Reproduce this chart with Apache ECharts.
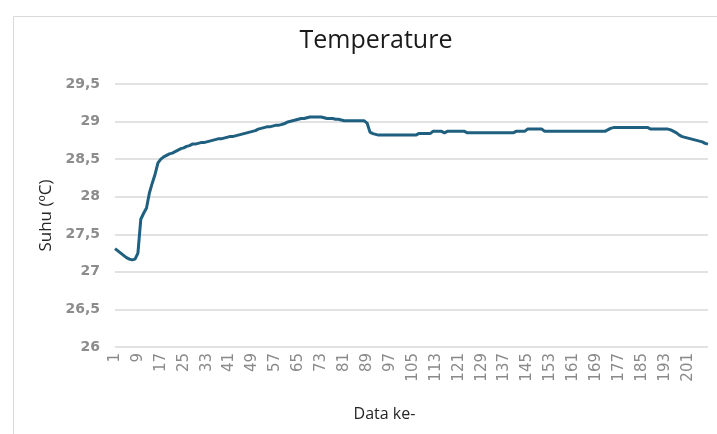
<!DOCTYPE html>
<html>
<head>
<meta charset="utf-8">
<script src="https://cdn.jsdelivr.net/npm/echarts@6/dist/echarts.min.js"></script>
<style>
html,body{margin:0;padding:0;background:#fff;}
#chart{width:717px;height:434px;}
</style>
</head>
<body>
<div id="chart"></div>
<script>
var chartTitle = "Temperature";
var yAxisName = "Suhu (ºC)";
var xAxisName = "Data ke-";
var yTicks = [26, 26.5, 27, 27.5, 28, 28.5, 29, 29.5];

var temperature = [
  27.31, 27.28, 27.25, 27.22, 27.19, 27.17, 27.16, 27.17, 27.25, 27.70,
  27.78, 27.85, 28.05, 28.18, 28.30, 28.45, 28.50, 28.53, 28.55, 28.57,
  28.58, 28.60, 28.62, 28.64, 28.65, 28.67, 28.68, 28.70, 28.70, 28.71,
  28.72, 28.72, 28.73, 28.74, 28.75, 28.76, 28.77, 28.77, 28.78, 28.79,
  28.80, 28.80, 28.81, 28.82, 28.83, 28.84, 28.85, 28.86, 28.87, 28.88,
  28.90, 28.91, 28.92, 28.93, 28.93, 28.94, 28.95, 28.95, 28.96, 28.97,
  28.99, 29.00, 29.01, 29.02, 29.03, 29.04, 29.04, 29.05, 29.06, 29.06,
  29.06, 29.06, 29.06, 29.05, 29.04, 29.04, 29.04, 29.03, 29.03, 29.02,
  29.01, 29.01, 29.01, 29.01, 29.01, 29.01, 29.01, 29.01, 28.98, 28.86,
  28.84, 28.83, 28.82, 28.82, 28.82, 28.82, 28.82, 28.82, 28.82, 28.82,
  28.82, 28.82, 28.82, 28.82, 28.82, 28.82, 28.84, 28.84, 28.84, 28.84,
  28.84, 28.87, 28.87, 28.87, 28.87, 28.85, 28.87, 28.87, 28.87, 28.87,
  28.87, 28.87, 28.87, 28.85, 28.85, 28.85, 28.85, 28.85, 28.85, 28.85,
  28.85, 28.85, 28.85, 28.85, 28.85, 28.85, 28.85, 28.85, 28.85, 28.85,
  28.87, 28.87, 28.87, 28.87, 28.90, 28.90, 28.90, 28.90, 28.90, 28.90,
  28.87, 28.87, 28.87, 28.87, 28.87, 28.87, 28.87, 28.87, 28.87, 28.87,
  28.87, 28.87, 28.87, 28.87, 28.87, 28.87, 28.87, 28.87, 28.87, 28.87,
  28.87, 28.87, 28.89, 28.91, 28.92, 28.92, 28.92, 28.92, 28.92, 28.92,
  28.92, 28.92, 28.92, 28.92, 28.92, 28.92, 28.92, 28.90, 28.90, 28.90,
  28.90, 28.90, 28.90, 28.90, 28.89, 28.87, 28.85, 28.82, 28.80, 28.79,
  28.78, 28.77, 28.76, 28.75, 28.74, 28.73, 28.71, 28.70
];

var categories = temperature.map(function (v, i) { return String(i + 1); });

var chart = echarts.init(document.getElementById('chart'), null, {renderer: 'canvas'});
chart.setOption({
  animation: false,
  backgroundColor: '#ffffff',
  graphic: [{
    type: 'rect',
    shape: {x: 13.5, y: 16.5, width: 720, height: 440},
    style: {fill: 'none', stroke: '#d9d9d9', lineWidth: 1},
    silent: true, z: -1
  }],
  title: {
    text: chartTitle,
    left: 371, top: 23, textAlign: 'center',
    textStyle: {fontFamily: 'Open Sans', fontSize: 25, fontWeight: 'normal', color: '#1a1a1a'}
  },
  grid: {left: 115, right: 9, top: 84, bottom: 87, containLabel: false},
  xAxis: {
    type: 'category',
    data: categories,
    boundaryGap: false,
    name: xAxisName,
    nameLocation: 'middle',
    nameGap: 59,
    nameTextStyle: {fontFamily: 'Open Sans', fontSize: 16, color: '#262626', padding: [0, 54, 0, 0]},
    axisLine: {show: false},
    axisTick: {show: false},
    splitLine: {show: false},
    axisLabel: {
      interval: 7, rotate: 90, margin: 6,
      fontFamily: 'DejaVu Sans', fontSize: 15, color: '#8a8a8a'
    }
  },
  yAxis: {
    type: 'value',
    min: 26, max: 29.5, interval: 0.5,
    name: yAxisName,
    nameLocation: 'middle',
    nameGap: 60,
    nameRotate: 90,
    nameTextStyle: {fontFamily: 'Open Sans', fontSize: 17, color: '#262626'},
    axisLine: {show: false},
    axisTick: {show: false},
    splitLine: {lineStyle: {color: '#d9d9d9', width: 1.5}},
    axisLabel: {
      margin: 15,
      fontFamily: 'DejaVu Sans', fontSize: 14, fontWeight: 'bold', color: '#8c8c8c',
      formatter: function (v) { return String(v).replace('.', ','); }
    }
  },
  series: [{
    type: 'line',
    data: temperature,
    showSymbol: false,
    symbol: 'none',
    smooth: false,
    lineStyle: {color: '#1f5f80', width: 3}
  }]
});
</script>
</body>
</html>
